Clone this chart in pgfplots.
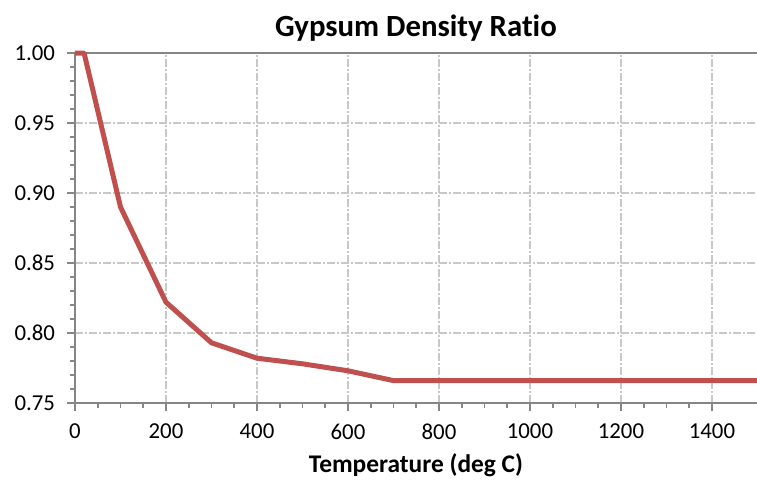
\documentclass[border=0pt]{standalone}
\usepackage{pgfplots}
\pgfplotsset{compat=1.18}
\usepackage{fontspec}
\setmainfont[Ligatures=NoCommon]{Carlito}
\definecolor{curvered}{RGB}{192,80,77}
\definecolor{axisgray}{RGB}{134,134,134}
\definecolor{gridgray}{RGB}{200,200,200}
\begin{document}
\begin{tikzpicture}[x=1pt,y=1pt]
\begin{axis}[
  scale only axis,
  width=341pt, height=175pt,
  xmin=0, xmax=1499, ymin=0.75, ymax=1.00,
  axis x line=box, axis y line=left,
  axis line style={-, axisgray, line width=1pt},
  xtick={0,200,...,1400},
  minor x tick num=3,
  ytick={0.75,0.80,...,1.001},
  minor y tick num=4,
  xtick pos=bottom,
  tick align=outside,
  major tick length=4pt, minor tick length=2.6pt,
  every tick/.style={axisgray, line width=0.8pt},
  grid=major,
  major grid style={gridgray, line width=0.7pt, dash pattern=on 4pt off 1pt on 1pt off 1pt},
  /pgf/number format/assume math mode=true,
  tick label style={font=\fontsize{11.4}{13}\selectfont, black},
  yticklabel style={xshift=-2.5pt, /pgf/number format/.cd, fixed, fixed zerofill, precision=2},
  xticklabel style={yshift=-3pt, /pgf/number format/.cd, fixed, set thousands separator={}},
  title={\bfseries Gypsum Density Ratio},
  title style={font=\fontsize{15.4}{18}\selectfont, yshift=-3.5pt},
  xlabel={\bfseries Temperature (deg C)},
  xlabel style={font=\fontsize{12.7}{15}\selectfont, yshift=0pt},
  clip=false,
]
\addplot[curvered, line width=2.5pt, line join=round] coordinates {
  (0,1.000) (20,1.000) (100,0.890) (200,0.822) (300,0.793)
  (400,0.782) (500,0.778) (600,0.773) (700,0.766) (1499,0.766)
};
\end{axis}
\pgfresetboundingbox
\path[use as bounding box] (-37.5pt,-38pt) rectangle (341pt,201.5pt);
\end{tikzpicture}
\end{document}
